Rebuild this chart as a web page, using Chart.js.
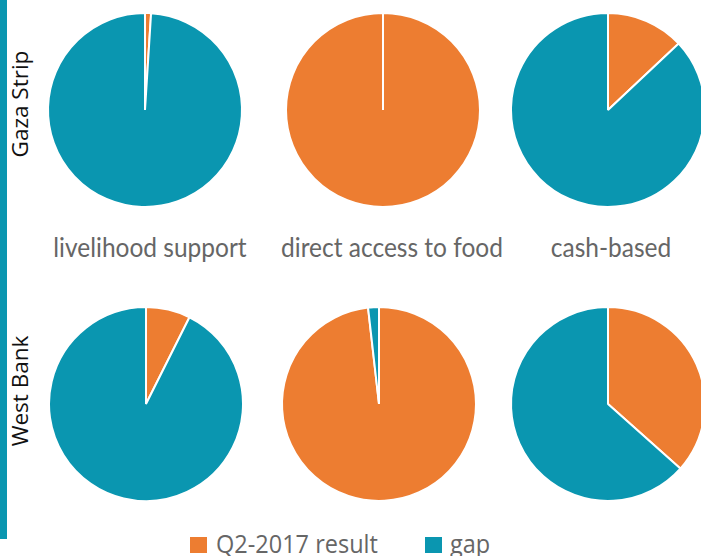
<!DOCTYPE html>
<html>
<head>
<meta charset="utf-8">
<script src="https://cdn.jsdelivr.net/npm/chart.js@4"></script>
<style>
  html, body { margin:0; padding:0; background:#fff; }
  body { width:701px; height:556px; position:relative; overflow:hidden; font-family:"Open Sans", sans-serif; }
  .bar { position:absolute; left:0; top:0; width:7px; height:539px; background:#0a96b0; }
  .pie { position:absolute; }
  .row { position:absolute; font-size:22.5px; color:#111; white-space:nowrap; transform:translate(-50%,-50%) rotate(-90deg); }
  .col { position:absolute; top:236px; line-height:24px; font-family:Lato, sans-serif; font-size:24.5px; color:#666; white-space:nowrap; transform:translateX(-50%) scaleY(1.08); transform-origin:50% 80%; }
  .lgtext { position:absolute; top:532px; line-height:24px; font-size:23.5px; color:#666; white-space:nowrap; transform:scaleY(1.06); transform-origin:0 90%; }
  .sw { position:absolute; top:537px; width:17px; height:16px; }
</style>
</head>
<body>
<div class="bar"></div>
<div id="labels"></div>
<script>
// ======= data =======
const regions = ['Gaza Strip', 'West Bank'];
const categories = ['livelihood support', 'direct access to food', 'cash-based'];
const seriesNames = ['Q2-2017 result', 'gap'];
const colors = ['#ed7d31', '#0a96b0'];
// percent achieved per region / category
const gazaResult = [1, 100, 13];
const gazaGap    = [99, 0, 87];
const westResult = [7.4, 98.2, 36.6];
const westGap    = [92.6, 1.8, 63.4];

// ======= layout =======
const centersX = [[145, 383, 608], [146, 379, 608]];
const centersY = [110, 404];
const R = 97, S = 200;

const rows = [[gazaResult, gazaGap], [westResult, westGap]];

rows.forEach((rowData, ri)=>{
  categories.forEach((cat, ci)=>{
    const c = document.createElement('canvas');
    c.className = 'pie';
    c.width = S; c.height = S;
    c.style.left = (centersX[ri][ci] - S/2) + 'px';
    c.style.top = (centersY[ri] - S/2) + 'px';
    document.body.appendChild(c);
    new Chart(c.getContext('2d'), {
      type: 'pie',
      data: {
        labels: seriesNames,
        datasets: [{
          data: [rowData[0][ci], rowData[1][ci]],
          backgroundColor: colors,
          borderColor: '#fff',
          borderWidth: 2,
          hoverOffset: 0,
          radius: R
        }]
      },
      options: {
        responsive: false,
        animation: false,
        plugins: { legend: { display: false }, tooltip: { enabled: false } }
      }
    });
  });
});

// ======= text =======
const labels = document.getElementById('labels');
const rowY = [104, 391];
regions.forEach((r, i)=>{
  const d = document.createElement('div');
  d.className = 'row';
  d.textContent = r;
  d.style.left = '19px';
  d.style.top = rowY[i] + 'px';
  labels.appendChild(d);
});
const colX = [150, 392, 611];
categories.forEach((cat, i)=>{
  const d = document.createElement('div');
  d.className = 'col';
  d.textContent = cat;
  d.style.left = colX[i] + 'px';
  labels.appendChild(d);
});
// legend
const swX = [190, 425], txtX = [216, 450];
seriesNames.forEach((n, i)=>{
  const s = document.createElement('div');
  s.className = 'sw';
  s.style.left = swX[i] + 'px';
  s.style.background = colors[i];
  labels.appendChild(s);
  const t = document.createElement('div');
  t.className = 'lgtext';
  t.style.left = txtX[i] + 'px';
  t.textContent = n;
  labels.appendChild(t);
});
</script>
</body>
</html>
